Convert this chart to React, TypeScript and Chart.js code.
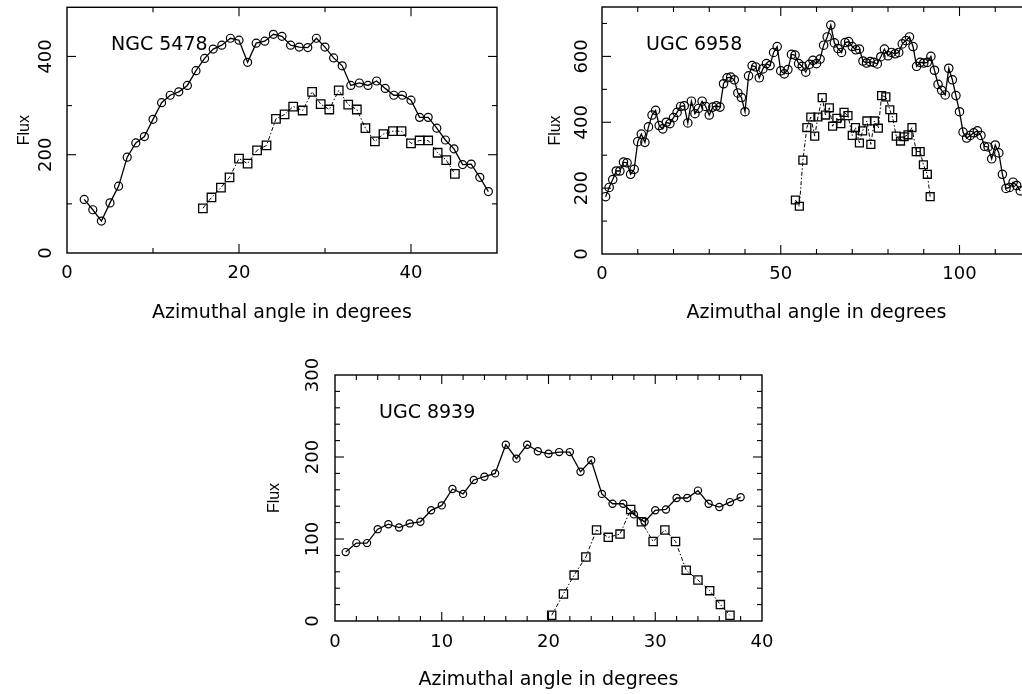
import React, { useEffect, useRef } from "react";
import { Chart, registerables } from "chart.js";

Chart.register(...registerables);

// ---------- NGC 5478 ----------
const ngcCircleX = [2, 3, 4, 5, 6, 7, 8, 9, 10, 11, 12, 13, 14, 15, 16, 17, 18, 19, 20, 21, 22, 23, 24, 25, 26, 27, 28, 29, 30, 31, 32, 33, 34, 35, 36, 37, 38, 39, 40, 41, 42, 43, 44, 45, 46, 47, 48, 49];
const ngcCircleY = [109, 88, 65, 102, 136, 195, 224, 237, 272, 306, 321, 328, 341, 371, 396, 415, 423, 437, 433, 388, 427, 431, 445, 441, 423, 419, 418, 437, 419, 397, 381, 341, 346, 341, 350, 335, 321, 321, 311, 276, 276, 254, 230, 212, 180, 181, 154, 125];
const ngcSquareX = [15.8, 16.8, 17.9, 18.9, 20, 21, 22.1, 23.2, 24.3, 25.3, 26.3, 27.4, 28.5, 29.5, 30.5, 31.6, 32.7, 33.7, 34.7, 35.8, 36.8, 37.9, 38.9, 40, 41, 42, 43.1, 44.1, 45.1];
const ngcSquareY = [91, 113, 133, 154, 192, 182, 209, 219, 273, 282, 298, 290, 328, 303, 292, 331, 302, 292, 254, 227, 242, 248, 248, 223, 229, 229, 204, 189, 161];

// ---------- UGC 6958 ----------
const u6958CircleX = [1, 2, 3, 4, 5, 6, 7, 8, 9, 10, 11, 12, 13, 14, 15, 16, 17, 18, 19, 20, 21, 22, 23, 24, 25, 26, 27, 28, 29, 30, 31, 32, 33, 34, 35, 36, 37, 38, 39, 40, 41, 42, 43, 44, 45, 46, 47, 48, 49, 50, 51, 52, 53, 54, 55, 56, 57, 58, 59, 60, 61, 62, 63, 64, 65, 66, 67, 68, 69, 70, 71, 72, 73, 74, 75, 76, 77, 78, 79, 80, 81, 82, 83, 84, 85, 86, 87, 88, 89, 90, 91, 92, 93, 94, 95, 96, 97, 98, 99, 100, 101, 102, 103, 104, 105, 106, 107, 108, 109, 110, 111, 112, 113, 114, 115, 116, 117];
const u6958CircleY = [174, 202, 226, 252, 252, 279, 277, 242, 257, 341, 364, 339, 386, 422, 436, 390, 380, 400, 396, 414, 430, 448, 450, 398, 464, 426, 442, 464, 448, 422, 446, 450, 446, 517, 535, 537, 529, 489, 475, 432, 541, 572, 568, 535, 562, 578, 572, 612, 630, 556, 547, 560, 606, 604, 578, 570, 552, 576, 588, 578, 592, 634, 659, 695, 641, 624, 612, 642, 645, 630, 620, 622, 586, 580, 584, 582, 577, 599, 622, 602, 612, 608, 612, 638, 648, 659, 630, 570, 582, 580, 582, 600, 558, 515, 497, 483, 564, 529, 481, 432, 370, 352, 360, 368, 374, 360, 327, 325, 289, 331, 307, 242, 199, 202, 218, 208, 192];
const u6958SquareX = [54.1, 55.2, 56.2, 57.3, 58.4, 59.5, 60.4, 61.6, 62.5, 63.6, 64.5, 65.7, 66.8, 67.7, 68.8, 70.0, 70.9, 72.0, 72.9, 74.1, 75.2, 76.2, 77.3, 78.2, 79.4, 80.5, 81.3, 82.3, 83.5, 84.5, 85.6, 86.7, 87.9, 89.0, 89.9, 91.0, 91.8];
const u6958SquareY = [164, 145, 285, 384, 416, 358, 416, 475, 422, 444, 388, 412, 396, 430, 420, 360, 384, 337, 374, 404, 333, 404, 382, 481, 477, 438, 414, 358, 343, 356, 362, 384, 311, 311, 271, 242, 174];

// ---------- UGC 8939 ----------
const u8939CircleX = [1, 2, 3, 4, 5, 6, 7, 8, 9, 10, 11, 12, 13, 14, 15, 16, 17, 18, 19, 20, 21, 22, 23, 24, 25, 26, 27, 28, 29, 30, 31, 32, 33, 34, 35, 36, 37, 38];
const u8939CircleY = [84, 95, 95, 112, 118, 114, 119, 121, 135, 141, 161, 155, 172, 176, 180, 215, 198, 215, 207, 204, 206, 206, 182, 196, 155, 143, 143, 130, 121, 135, 136, 150, 150, 159, 143, 139, 145, 151];
const u8939SquareX = [20.3, 21.4, 22.4, 23.5, 24.5, 25.6, 26.7, 27.7, 28.7, 29.8, 30.9, 31.9, 32.9, 34.0, 35.1, 36.1, 37.0];
const u8939SquareY = [7, 33, 56, 78, 111, 102, 106, 136, 121, 97, 111, 97, 62, 50, 37, 20, 7];

const xTitle = "Azimuthal angle in degrees";
const yTitle = "Flux";

const framePlugin = {
  id: "frameTicks",
  afterDraw(chart: any, _args: any, opts: any) {
    const { ctx, chartArea: a } = chart;
    const xs = chart.scales.x;
    const ys = chart.scales.y;
    ctx.save();
    ctx.strokeStyle = "#000";
    ctx.lineWidth = 1.4;
    ctx.strokeRect(a.left, a.top, a.right - a.left, a.bottom - a.top);
    ctx.lineWidth = 1.1;
    const seg = (x1: number, y1: number, x2: number, y2: number) => {
      ctx.beginPath();
      ctx.moveTo(x1, y1);
      ctx.lineTo(x2, y2);
      ctx.stroke();
    };
    const isMajor = (v: number, step: number) => Math.abs(v / step - Math.round(v / step)) < 1e-6;
    const nx = Math.round((xs.max - xs.min) / opts.xMinor);
    for (let i = 1; i <= nx; i++) {
      const v = xs.min + i * opts.xMinor;
      if (v >= xs.max) break;
      const p = xs.getPixelForValue(v);
      const len = isMajor(v, opts.xMajor) ? 9 : 5;
      seg(p, a.bottom, p, a.bottom - len);
      seg(p, a.top, p, a.top + len);
    }
    const ny = Math.round((ys.max - ys.min) / opts.yMinor);
    for (let i = 1; i <= ny; i++) {
      const v = ys.min + i * opts.yMinor;
      if (v >= ys.max) break;
      const p = ys.getPixelForValue(v);
      const len = isMajor(v, opts.yMajor) ? 9 : 5;
      seg(a.left, p, a.left + len, p);
      seg(a.right, p, a.right - len, p);
    }
    ctx.fillStyle = "#000";
    ctx.font = '19px "DejaVu Sans"';
    ctx.textBaseline = "alphabetic";
    ctx.textAlign = "left";
    ctx.fillText(opts.label, a.left + 44, a.top + 43);
    ctx.restore();
  },
};

function makeConfig(p: any) {
  const circles = p.cx.map((x: number, i: number) => ({ x, y: p.cy[i] }));
  const squares = p.sx.map((x: number, i: number) => ({ x, y: p.sy[i] }));
  const tickFont = { family: '"DejaVu Sans"', size: 18 };
  return {
    type: "line",
    data: {
      datasets: [
        {
          data: circles,
          borderColor: "#000",
          borderWidth: 1.3,
          pointStyle: "circle",
          pointRadius: p.cr,
          pointBorderWidth: 1.2,
          pointBorderColor: "#000",
          pointBackgroundColor: "rgba(0,0,0,0)",
          fill: false,
          tension: 0,
        },
        {
          data: squares,
          borderColor: "#000",
          borderWidth: 1,
          borderDash: [4, 2, 1.5, 2],
          pointStyle: "rect",
          pointRadius: p.sr,
          pointBorderWidth: 1.3,
          pointBorderColor: "#000",
          pointBackgroundColor: "rgba(0,0,0,0)",
          fill: false,
          tension: 0,
        },
      ],
    },
    options: {
      responsive: false,
      animation: false,
      events: [],
      layout: { padding: { top: p.padTop, right: p.padRight, left: 0, bottom: 0 } },
      plugins: {
        legend: { display: false },
        tooltip: { enabled: false },
        frameTicks: { xMinor: p.xMinor, xMajor: p.xStep, yMinor: p.yMinor, yMajor: p.yStep, label: p.label },
      },
      scales: {
        x: {
          type: "linear",
          min: 0,
          max: p.xMax,
          grid: { display: false, drawTicks: false, tickLength: 0 },
          border: { display: false },
          ticks: {
            stepSize: p.xStep,
            includeBounds: false,
            autoSkip: false,
            maxRotation: 0,
            minRotation: 0,
            padding: p.xTickPad,
            font: tickFont,
            color: "#000",
          },
          title: {
            display: true,
            text: xTitle,
            color: "#000",
            font: { family: '"DejaVu Sans"', size: 19 },
            padding: { top: 0, bottom: p.xTitlePad },
          },
          afterFit: (s: any) => {
            s.height = p.xH;
            s.paddingLeft = 0;
            s.paddingRight = 0;
          },
        },
        y: {
          type: "linear",
          min: 0,
          max: p.yMax,
          grid: { display: false, drawTicks: false, tickLength: 0 },
          border: { display: false },
          ticks: {
            stepSize: p.yStep,
            includeBounds: false,
            autoSkip: false,
            minRotation: 90,
            maxRotation: 90,
            crossAlign: "center",
            padding: p.yTickPad,
            font: tickFont,
            color: "#000",
          },
          title: {
            display: true,
            text: yTitle,
            color: "#000",
            font: { family: '"Liberation Sans"', size: 16 },
            padding: { top: p.yTitlePad, bottom: 0 },
          },
          afterFit: (s: any) => {
            s.width = p.yW;
            s.paddingTop = 0;
            s.paddingBottom = 0;
          },
        },
      },
    },
    plugins: [framePlugin],
  };
}

function Panel(props: any) {
  const ref = useRef<HTMLCanvasElement | null>(null);
  const { left, top, width, height, cfg } = props;
  useEffect(() => {
    if (!ref.current) return;
    const chart = new Chart(ref.current, makeConfig(cfg) as any);
    return () => chart.destroy();
  }, []);
  return (
    <canvas
      ref={ref}
      width={width}
      height={height}
      style={{ position: "absolute", left, top, width, height }}
    />
  );
}

const panel1 = {
  cx: ngcCircleX, cy: ngcCircleY, sx: ngcSquareX, sy: ngcSquareY,
  label: "NGC 5478",
  xMax: 50, xStep: 20, xMinor: 10,
  yMax: 500, yStep: 200, yMinor: 100,
  padTop: 7, padRight: 13, yW: 67, xH: 87,
  xTickPad: 10, xTitlePad: 16, yTickPad: 3, yTitlePad: 15.4,
  cr: 4, sr: 6,
};

const panel2 = {
  cx: u6958CircleX, cy: u6958CircleY, sx: u6958SquareX, sy: u6958SquareY,
  label: "UGC 6958",
  xMax: 120, xStep: 50, xMinor: 10,
  yMax: 750, yStep: 200, yMinor: 100,
  padTop: 7, padRight: 19, yW: 82, xH: 86,
  xTickPad: 10, xTitlePad: 15.6, yTickPad: 2, yTitlePad: 26.4,
  cr: 4.2, sr: 5.6,
};

const panel3 = {
  cx: u8939CircleX, cy: u8939CircleY, sx: u8939SquareX, sy: u8939SquareY,
  label: "UGC 8939",
  xMax: 40, xStep: 10, xMinor: 2,
  yMax: 300, yStep: 100, yMinor: 20,
  padTop: 25, padRight: 18, yW: 85, xH: 79,
  xTickPad: 11, xTitlePad: 8.6, yTickPad: 4, yTitlePad: 15.4,
  cr: 3.6, sr: 5.8,
};

export default function App() {
  return (
    <div
      style={{
        position: "fixed",
        left: 0,
        top: 0,
        width: 1022,
        height: 694,
        overflow: "hidden",
        background: "#fff",
      }}
    >
      <Panel left={0} top={0} width={510} height={340} cfg={panel1} />
      <Panel left={520} top={0} width={530} height={340} cfg={panel2} />
      <Panel left={250} top={350} width={530} height={350} cfg={panel3} />
    </div>
  );
}
